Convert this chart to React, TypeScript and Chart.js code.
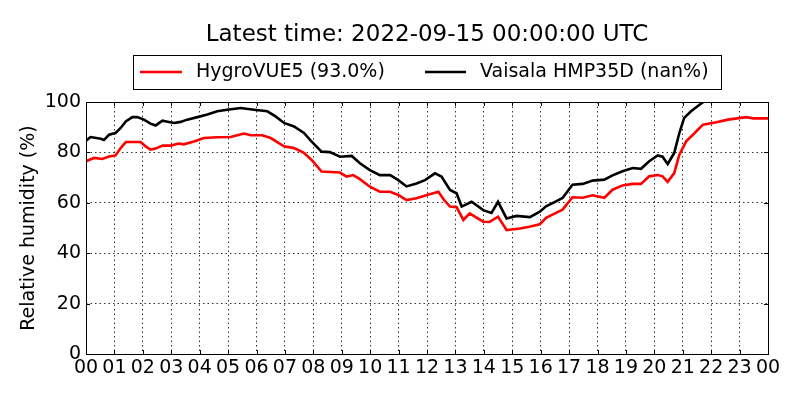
import { useEffect, useRef } from "react";
import { Chart, registerables } from "chart.js";

Chart.register(...registerables);

// hours since 00 UTC, relative humidity in %
const hygroHours = [
  0, 0.28, 0.57, 0.81, 1.04, 1.22, 1.4, 1.92, 2.1, 2.27, 2.45, 2.69, 2.98, 3.27, 3.44, 3.8, 4.15, 4.62, 5.09,
  5.56, 5.8, 6.2, 6.5, 6.97, 7.32, 7.67, 7.94, 8.29, 8.94, 9.17, 9.4, 9.64, 9.99, 10.34, 10.7, 10.99, 11.28,
  11.63, 12.0, 12.4, 12.6, 12.81, 13.04, 13.28, 13.5, 13.98, 14.2, 14.5, 14.8, 15.27, 15.6, 15.97, 16.19,
  16.54, 16.77, 17.12, 17.48, 17.83, 18.24, 18.53, 18.88, 19.24, 19.53, 19.82, 20.12, 20.29, 20.47, 20.7,
  20.88, 21.12, 21.42, 21.71, 22.18, 22.59, 23.24, 23.48, 24,
];
const hygroValues = [
  76.5, 77.8, 77.4, 78.4, 78.8, 81.7, 84.1, 84.1, 82.4, 81.1, 81.5, 82.7, 82.7, 83.5, 83.2, 84.3, 85.7, 86, 86.1,
  87.5, 86.8, 86.8, 85.7, 82.4, 81.7, 79.8, 77, 72.4, 72, 70.4, 71, 69.4, 66.4, 64.4, 64.4, 63.1, 61.1,
  61.8, 63.1, 64.4, 61.1, 58.5, 58.3, 53.2, 55.8, 52.5, 52.4, 54.5, 49.2, 49.8, 50.5, 51.5, 54,
  56, 57.3, 62.2, 62, 63, 62, 65.2, 66.9, 67.5, 67.5, 70.5, 71, 70.5, 68.3, 71.8,
  79.1, 84.4, 87.7, 91, 92, 93, 94, 93.5, 93.5,
];

const vaisalaHours = [
  0, 0.16, 0.52, 0.63, 0.81, 1.04, 1.22, 1.4, 1.63, 1.8, 2.04, 2.27, 2.45, 2.69, 2.87, 3.1, 3.33, 3.56, 3.92,
  4.27, 4.62, 4.97, 5.44, 5.91, 6.38, 6.67, 6.97, 7.32, 7.67, 7.94, 8.29, 8.58, 8.94, 9.35, 9.64, 9.99, 10.34,
  10.7, 10.99, 11.28, 11.63, 11.93, 12.28, 12.51, 12.81, 13.04, 13.22, 13.57, 13.98, 14.27, 14.5, 14.8, 15.15,
  15.62, 15.97, 16.19, 16.54, 16.77, 17.12, 17.48, 17.83, 18.24, 18.53, 18.88, 19.24, 19.53, 19.82, 20.12,
  20.29, 20.47, 20.7, 20.88, 21.05, 21.29, 21.59, 21.76, 22.0,
];
const vaisalaValues = [
  84.6, 86.1, 85.4, 84.9, 87, 87.7, 89.7, 92.3, 94, 94, 93, 91.4, 90.7, 92.6, 92.2, 91.7, 92.1, 93, 94,
  95, 96.3, 96.9, 97.6, 96.9, 96.3, 94.3, 91.7, 90.3, 87.7, 84.3, 80.3, 80.1, 78.3, 78.6, 75.7, 73, 71,
  71, 69, 66.5, 67.7, 69, 71.7, 70.4, 65.1, 63.8, 58.5, 60.4, 57.1, 56, 60.4, 53.8, 54.8,
  54.3, 56.5, 58.6, 60.6, 61.9, 67.2, 67.5, 68.8, 69.2, 70.9, 72.5, 73.8, 73.5, 76.5, 78.8,
  78.3, 75.4, 79.8, 87.7, 93.7, 96.3, 98.9, 100.3, 102,
];

const hourLabels = [
  "00", "01", "02", "03", "04", "05", "06", "07", "08", "09", "10", "11", "12",
  "13", "14", "15", "16", "17", "18", "19", "20", "21", "22", "23", "00",
];
const humidityTicks = [0, 20, 40, 60, 80, 100];

const titleText = "Latest time: 2022-09-15 00:00:00 UTC";
const hygroLabel = "HygroVUE5 (93.0%)";
const vaisalaLabel = "Vaisala HMP35D (nan%)";

const FONT = '"DejaVu Sans", sans-serif';

// title, boxed legend, frame and inward tick marks in the matplotlib look
const decorations = {
  id: "decorations",
  afterDraw(chart: Chart) {
    const { ctx, chartArea: a } = chart;
    const xs = chart.scales.x;
    const ys = chart.scales.y;
    ctx.save();

    ctx.fillStyle = "#000";
    ctx.font = `23px ${FONT}`;
    ctx.textAlign = "center";
    ctx.textBaseline = "middle";
    ctx.fillText(titleText, 427, 35);

    ctx.strokeStyle = "#000";
    ctx.lineWidth = 1;
    ctx.strokeRect(133.5, 55.5, 588, 34);

    ctx.font = `19px ${FONT}`;
    ctx.textAlign = "left";
    ctx.lineWidth = 2.6;
    ctx.strokeStyle = "#ff0000";
    ctx.beginPath();
    ctx.moveTo(140, 72);
    ctx.lineTo(182, 72);
    ctx.stroke();
    ctx.fillText(hygroLabel, 196, 72);
    ctx.strokeStyle = "#000";
    ctx.beginPath();
    ctx.moveTo(425, 72);
    ctx.lineTo(466, 72);
    ctx.stroke();
    ctx.fillText(vaisalaLabel, 480, 72);

    ctx.lineWidth = 1;
    ctx.strokeRect(Math.round(a.left) + 0.5, Math.round(a.top) + 0.5, Math.round(a.right - a.left), Math.round(a.bottom - a.top));

    ctx.beginPath();
    for (let h = 0; h < hourLabels.length; h++) {
      const px = Math.round(xs.getPixelForValue(h)) + 0.5;
      ctx.moveTo(px, a.bottom);
      ctx.lineTo(px, a.bottom - 4);
      ctx.moveTo(px, a.top);
      ctx.lineTo(px, a.top + 4);
    }
    for (const v of humidityTicks) {
      const py = Math.round(ys.getPixelForValue(v)) + 0.5;
      ctx.moveTo(a.left, py);
      ctx.lineTo(a.left + 4, py);
      ctx.moveTo(a.right, py);
      ctx.lineTo(a.right - 4, py);
    }
    ctx.stroke();
    ctx.restore();
  },
};

function HumidityChart() {
  const canvasRef = useRef<HTMLCanvasElement>(null);

  useEffect(() => {
    if (!canvasRef.current) return;
    const chart = new Chart(canvasRef.current, {
      type: "line",
      data: {
        datasets: [
          {
            label: vaisalaLabel,
            data: vaisalaHours.map((h, i) => ({ x: h, y: vaisalaValues[i] })),
            borderColor: "#000000",
            borderWidth: 2.6,
            pointRadius: 0,
            tension: 0,
            clip: 0,
          },
          {
            label: hygroLabel,
            data: hygroHours.map((h, i) => ({ x: h, y: hygroValues[i] })),
            borderColor: "#ff0000",
            borderWidth: 2.6,
            pointRadius: 0,
            tension: 0,
            clip: 0,
          },
        ],
      },
      options: {
        responsive: true,
        maintainAspectRatio: false,
        animation: false,
        layout: { padding: { top: 102, right: 32, left: 0, bottom: 0 } },
        scales: {
          x: {
            type: "linear",
            min: 0,
            max: 24,
            afterFit: (s: any) => {
              s.height = 46;
            },
            ticks: {
              stepSize: 1,
              autoSkip: false,
              maxRotation: 0,
              padding: 3,
              color: "#000",
              font: { family: FONT, size: 19 },
              callback: (v: any) => hourLabels[Number(v)] ?? "",
            },
            grid: { color: "#000", lineWidth: 0.8, drawTicks: false },
            border: { display: false, dash: [1.5, 3] },
          },
          y: {
            min: 0,
            max: 100,
            afterFit: (s: any) => {
              s.width = 86;
            },
            ticks: {
              stepSize: 20,
              padding: 5,
              color: "#000",
              font: { family: FONT, size: 19 },
            },
            grid: { color: "#000", lineWidth: 0.8, drawTicks: false },
            border: { display: false, dash: [1.5, 3] },
            title: {
              display: true,
              text: "Relative humidity (%)",
              color: "#000",
              font: { family: FONT, size: 19 },
              padding: { top: 18, bottom: 0 },
            },
          },
        },
        plugins: {
          legend: { display: false },
          title: { display: false },
          tooltip: { enabled: false },
        },
      },
      plugins: [decorations],
    });
    return () => chart.destroy();
  }, []);

  return (
    <div style={{ position: "absolute", left: 0, top: 0, width: 800, height: 400, background: "#fff" }}>
      <canvas ref={canvasRef} />
    </div>
  );
}

export default function App() {
  return <HumidityChart />;
}
